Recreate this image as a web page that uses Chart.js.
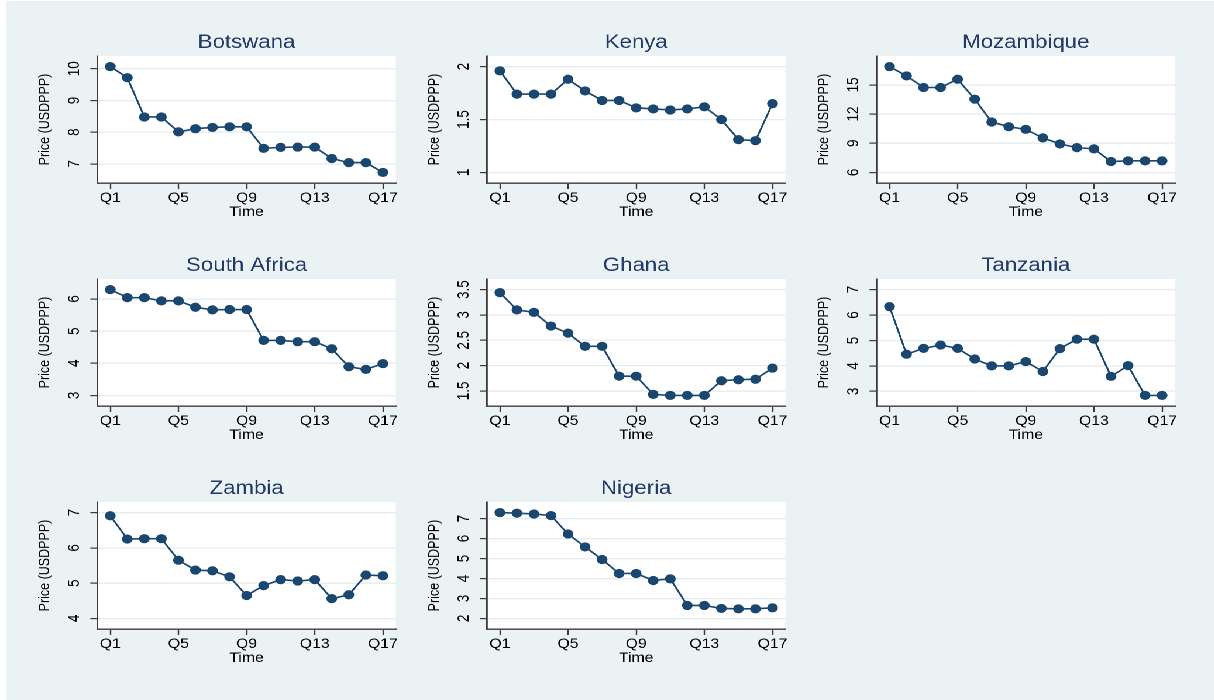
<!DOCTYPE html>
<html>
<head>
<meta charset="utf-8">
<title>Price (USDPPP) by quarter</title>
<script src="https://cdn.jsdelivr.net/npm/chart.js@4.4.1/dist/chart.umd.min.js"></script>
<style>
  html, body { margin: 0; padding: 0; background: #fff; overflow: hidden; width: 1214px; height: 700px; }
  /* the whole figure is drawn narrow and widened horizontally */
  #stage { position: absolute; left: 0; top: 0; width: 1100px; height: 700px; transform: scaleX(1.17); transform-origin: 0 0; }
  #backdrop { position: absolute; left: 5.1px; top: 1px; width: 1100px; height: 699px; background: #eaf2f3; }
  canvas { position: absolute; }
</style>
</head>
<body>
<div id="stage"><div id="backdrop"></div></div>
<script>
const quarters = ['Q1', 'Q2', 'Q3', 'Q4', 'Q5', 'Q6', 'Q7', 'Q8', 'Q9', 'Q10', 'Q11', 'Q12', 'Q13', 'Q14', 'Q15', 'Q16', 'Q17'];
const tickQuarters = ['Q1', 'Q5', 'Q9', 'Q13', 'Q17'];

const botswana = [10.07, 9.72, 8.48, 8.48, 8.01, 8.11, 8.15, 8.17, 8.17, 7.49, 7.52, 7.53, 7.53, 7.17, 7.04, 7.04, 6.73];
const kenya = [1.96, 1.74, 1.74, 1.74, 1.88, 1.77, 1.68, 1.68, 1.61, 1.60, 1.59, 1.60, 1.62, 1.50, 1.31, 1.30, 1.65];
const mozambique = [16.88, 15.92, 14.73, 14.73, 15.58, 13.53, 11.18, 10.70, 10.43, 9.55, 8.93, 8.55, 8.42, 7.12, 7.19, 7.19, 7.19];
const southAfrica = [6.29, 6.04, 6.04, 5.94, 5.94, 5.74, 5.66, 5.67, 5.67, 4.71, 4.71, 4.67, 4.67, 4.45, 3.89, 3.81, 3.99];
const ghana = [3.44, 3.10, 3.05, 2.78, 2.64, 2.38, 2.38, 1.79, 1.79, 1.43, 1.41, 1.41, 1.41, 1.70, 1.72, 1.73, 1.95];
const tanzania = [6.33, 4.46, 4.69, 4.82, 4.69, 4.27, 4.00, 4.00, 4.17, 3.78, 4.68, 5.05, 5.05, 3.59, 4.01, 2.84, 2.84];
const zambia = [6.91, 6.25, 6.26, 6.26, 5.65, 5.37, 5.35, 5.18, 4.65, 4.93, 5.10, 5.06, 5.10, 4.56, 4.67, 5.23, 5.21];
const nigeria = [7.30, 7.27, 7.23, 7.15, 6.23, 5.58, 4.95, 4.25, 4.25, 3.90, 3.98, 2.65, 2.65, 2.50, 2.48, 2.48, 2.53];

const botswanaTicks = [7, 8, 9, 10];
const kenyaTicks = [1, 1.5, 2];
const mozambiqueTicks = [6, 9, 12, 15];
const southAfricaTicks = [3, 4, 5, 6];
const ghanaTicks = [1.5, 2, 2.5, 3, 3.5];
const tanzaniaTicks = [3, 4, 5, 6, 7];
const zambiaTicks = [4, 5, 6, 7];
const nigeriaTicks = [2, 3, 4, 5, 6, 7];

const panels = [
    { title: 'Botswana', values: botswana, ticks: botswanaTicks, col: 0, row: 0 },
    { title: 'Kenya', values: kenya, ticks: kenyaTicks, col: 1, row: 0 },
    { title: 'Mozambique', values: mozambique, ticks: mozambiqueTicks, col: 2, row: 0 },
    { title: 'South Africa', values: southAfrica, ticks: southAfricaTicks, col: 0, row: 1 },
    { title: 'Ghana', values: ghana, ticks: ghanaTicks, col: 1, row: 1 },
    { title: 'Tanzania', values: tanzania, ticks: tanzaniaTicks, col: 2, row: 1 },
    { title: 'Zambia', values: zambia, ticks: zambiaTicks, col: 0, row: 2 },
    { title: 'Nigeria', values: nigeria, ticks: nigeriaTicks, col: 1, row: 2 }
];

// page layout (px on the widened page)
const STRETCH = 1.17;
const colLeft = [97, 487, 877];
const rowTop = [56, 279, 502];
const plotW = 298.5, plotH = 127;
const leftGap = 95, rightGap = 12, topGap = 42, bottomGap = 44;

const FONT = '"Liberation Sans", Arial, Helvetica, sans-serif';
const navy = '#1a476f';
const titleColor = '#223a6a';
const axisColor = '#3a3a3a';
const gridColor = '#e3ecee';

function yBounds(values, ticks) {
    const lo = Math.min(...values, ...ticks);
    const hi = Math.max(...values, ...ticks);
    const pad = (hi - lo) * 0.1;
    return [lo - pad, hi + pad];
}

// white plot region behind grid and series
const plotBackground = {
    id: 'plotBackground',
    beforeDraw(chart) {
        const { ctx, chartArea: a } = chart;
        ctx.save();
        ctx.fillStyle = '#ffffff';
        ctx.fillRect(a.left, a.top, a.right - a.left, a.bottom - a.top);
        ctx.restore();
    }
};

// y tick labels read bottom-to-top, centred on their tick
const rotatedYLabels = {
    id: 'rotatedYLabels',
    afterDraw(chart) {
        const scale = chart.scales.y;
        const ctx = chart.ctx;
        const x = chart.chartArea.left - 23 / STRETCH;
        ctx.save();
        ctx.fillStyle = '#000';
        ctx.font = '13.5px ' + FONT;
        ctx.textAlign = 'center';
        ctx.textBaseline = 'middle';
        scale.ticks.forEach(t => {
            ctx.save();
            ctx.translate(x, scale.getPixelForValue(t.value));
            ctx.rotate(-Math.PI / 2);
            ctx.fillText(String(t.value), 0, 0);
            ctx.restore();
        });
        ctx.restore();
    }
};

function drawPanel(p) {
    const stage = document.getElementById('stage');
    const canvas = document.createElement('canvas');
    const marginL = leftGap / STRETCH;
    const marginR = rightGap / STRETCH;
    const width = Math.round(marginL + plotW / STRETCH + marginR);
    const height = topGap + plotH + bottomGap;
    canvas.width = width;
    canvas.height = height;
    canvas.style.width = width + 'px';
    canvas.style.height = height + 'px';
    canvas.style.left = ((colLeft[p.col] - leftGap) / STRETCH) + 'px';
    canvas.style.top = (rowTop[p.row] - topGap) + 'px';
    stage.appendChild(canvas);

    const [yMin, yMax] = yBounds(p.values, p.ticks);

    new Chart(canvas, {
        type: 'line',
        data: {
            datasets: [{
                data: p.values.map((v, i) => ({ x: i + 1, y: v })),
                borderColor: navy,
                backgroundColor: navy,
                borderWidth: 1.6,
                pointRadius: 4.6,
                pointHoverRadius: 4.6,
                pointBorderWidth: 0,
                pointBackgroundColor: navy,
                tension: 0,
                clip: false
            }]
        },
        options: {
            responsive: false,
            animation: false,
            devicePixelRatio: 2,
            events: [],
            layout: { padding: { left: 0, right: width - marginL - plotW / STRETCH, top: 0, bottom: 0 } },
            plugins: {
                legend: { display: false },
                tooltip: { enabled: false },
                title: {
                    display: true,
                    fullSize: false,
                    text: p.title,
                    color: titleColor,
                    font: { family: FONT, size: 19, weight: 'normal', lineHeight: 1.2 },
                    padding: { top: 17.6, bottom: 1.6 }
                }
            },
            scales: {
                x: {
                    type: 'linear',
                    bounds: 'data',
                    min: 1 - 0.76,
                    max: quarters.length + 0.76,
                    afterBuildTicks: scale => {
                        scale.ticks = tickQuarters.map(q => ({ value: quarters.indexOf(q) + 1 }));
                    },
                    afterFit: scale => {
                        scale.height = bottomGap;
                        scale.paddingLeft = 0;
                        scale.paddingRight = 0;
                    },
                    ticks: {
                        callback: v => quarters[v - 1],
                        color: '#000',
                        font: { family: FONT, size: 13.5 },
                        padding: 1,
                        maxRotation: 0,
                        autoSkip: false
                    },
                    grid: { drawOnChartArea: false, drawTicks: true, tickLength: 6, tickColor: axisColor, tickWidth: 1.2 },
                    border: { display: true, color: axisColor, width: 1.4 },
                    title: {
                        display: true,
                        text: 'Time',
                        color: '#000',
                        font: { family: FONT, size: 13.5 },
                        padding: { top: 0, bottom: 6.6 }
                    }
                },
                y: {
                    min: yMin,
                    max: yMax,
                    bounds: 'data',
                    afterBuildTicks: scale => {
                        scale.ticks = p.ticks.map(v => ({ value: v }));
                    },
                    afterFit: scale => {
                        scale.width = marginL;
                        scale.paddingTop = 0;
                        scale.paddingBottom = 0;
                    },
                    ticks: { display: false },
                    grid: { color: gridColor, lineWidth: 1.2, drawTicks: true, tickLength: 6, tickColor: axisColor, tickWidth: 1.2 },
                    border: { display: true, color: axisColor, width: 1.4 },
                    title: {
                        display: true,
                        text: 'Price (USDPPP)',
                        color: '#000',
                        font: { family: FONT, size: 12.5 },
                        padding: { top: 29.25, bottom: 0 }
                    }
                }
            }
        },
        plugins: [plotBackground, rotatedYLabels]
    });
}

panels.forEach(drawPanel);
</script>
</body>
</html>
